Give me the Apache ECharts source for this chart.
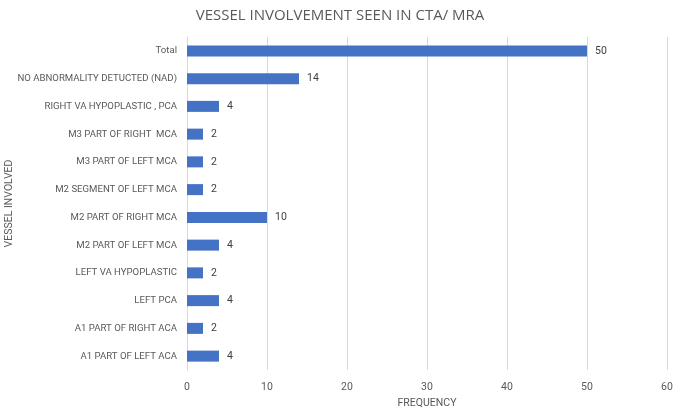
<!DOCTYPE html>
<html><head><meta charset="utf-8">
<script src="https://cdn.jsdelivr.net/npm/echarts@6/dist/echarts.min.js"></script>
<style>html,body{margin:0;padding:0;background:#fff}#c{width:680px;height:416px}</style>
</head><body><div id="c"></div>
<script>
const categories = ["A1 PART OF LEFT ACA","A1 PART OF RIGHT ACA","LEFT PCA","LEFT VA HYPOPLASTIC","M2 PART OF LEFT MCA","M2 PART OF RIGHT MCA","M2 SEGMENT OF LEFT MCA","M3 PART OF LEFT MCA","M3 PART OF RIGHT  MCA","RIGHT VA HYPOPLASTIC , PCA","NO ABNORMALITY DETUCTED (NAD)","Total"];
const values = [4,2,4,2,4,10,2,2,2,4,14,50];
const xTicks = [0,10,20,30,40,50,60];
const chart = echarts.init(document.getElementById('c'));
const font = 'Roboto, "Open Sans", sans-serif';
chart.setOption({
  animation:false,
  title:{text:'VESSEL INVOLVEMENT SEEN IN CTA/ MRA',left:'center',top:3,textStyle:{fontFamily:'"Open Sans", sans-serif',fontSize:15,fontWeight:'normal',color:'#595959'}},
  grid:{left:187,right:13,top:37,bottom:46,containLabel:false,outerBoundsMode:'none'},
  xAxis:{type:'value',min:xTicks[0],max:xTicks[xTicks.length-1],interval:10,
    name:'FREQUENCY',nameLocation:'middle',nameGap:26,nameTextStyle:{fontFamily:font,fontSize:10.5,color:'#595959'},
    axisLabel:{fontFamily:font,fontSize:10.5,color:'#595959',margin:12},
    axisLine:{show:false},axisTick:{show:false},
    splitLine:{lineStyle:{color:'#d9d9d9',width:1}}},
  yAxis:{type:'category',data:categories,
    name:'VESSEL INVOLVED',nameLocation:'middle',nameGap:172,nameRotate:90,nameMoveOverlap:false,nameTextStyle:{fontFamily:font,fontSize:10.5,color:'#595959'},
    axisLabel:{fontFamily:font,fontSize:9.6,color:'#595959',margin:10},
    axisLine:{show:true,lineStyle:{color:'#d9d9d9'}},axisTick:{show:false}},
  series:[{type:'bar',data:values,barWidth:11,itemStyle:{color:'#4472C4'},
    label:{show:true,position:'right',distance:8,fontFamily:font,fontSize:10.5,color:'#404040'}}]
});
</script></body></html>
